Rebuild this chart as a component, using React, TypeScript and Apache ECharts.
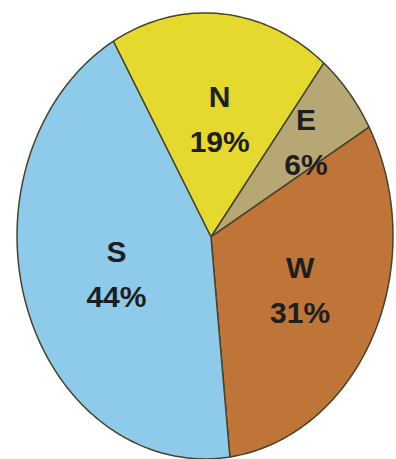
import React, { useEffect, useRef } from 'react';
import * as echarts from 'echarts';

const categories = ['N', 'E', 'W', 'S'];
const values = [19, 6, 31, 44];
const colors = ['#E4D92C', '#B7A775', '#BF7438', '#8ECBEA'];
const START_ANGLE = -29.2;

export default function App() {
  const ref = useRef<HTMLDivElement>(null);
  useEffect(() => {
    const chart = echarts.init(ref.current!, null, { renderer: 'svg' });
    const total = values.reduce((a, b) => a + b, 0);
    const cum: number[] = [];
    let acc = 0;
    values.forEach((v) => {
      cum.push(acc);
      acc += v;
    });
    chart.setOption({
      animation: false,
      series: [
        {
          type: 'custom',
          coordinateSystem: 'none',
          data: values.map((v, i) => ({ name: categories[i], value: v })),
          renderItem: (params: any, api: any) => {
            const i = params.dataIndex;
            const W = api.getWidth();
            const H = api.getHeight();
            const cx = W * 0.5177, cy = H * 0.514, rx = W * 0.4747, ry = H * 0.4858;
            const vx = W * 0.5328, vy = H * 0.5163;
            const a0 = START_ANGLE + (cum[i] / total) * 360;
            const a1 = a0 + (values[i] / total) * 360;
            const pts: number[][] = [[vx, vy]];
            const steps = Math.max(2, Math.ceil(a1 - a0));
            for (let k = 0; k <= steps; k++) {
              const a = ((a0 + ((a1 - a0) * k) / steps) * Math.PI) / 180;
              pts.push([cx + rx * Math.sin(a), cy - ry * Math.cos(a)]);
            }
            const mid = (((a0 + a1) / 2) * Math.PI) / 180;
            const r = values[i] / total < 0.1 ? 0.66 : 0.53;
            const lx = vx + rx * r * Math.sin(mid);
            const ly = vy - ry * r * Math.cos(mid);
            return {
              type: 'group',
              children: [
                {
                  type: 'polygon',
                  shape: { points: pts },
                  style: { fill: colors[i], stroke: '#45432c', lineWidth: 1.5, lineJoin: 'round' },
                },
                {
                  type: 'text',
                  x: lx,
                  y: ly,
                  z2: 10,
                  style: {
                    text: categories[i] + '\n' + values[i] + '%',
                    fill: '#1e1e1e',
                    fontFamily: '"Liberation Sans", Arial, sans-serif',
                    fontWeight: 'bold',
                    fontSize: 30,
                    lineHeight: 45,
                    align: 'center',
                    verticalAlign: 'middle',
                  },
                },
              ],
            };
          },
        },
      ],
    });
    return () => chart.dispose();
  }, []);
  return (
    <div
      ref={ref}
      style={{ position: 'fixed', left: 0, top: 0, width: 396, height: 459, background: '#fff' }}
    />
  );
}
